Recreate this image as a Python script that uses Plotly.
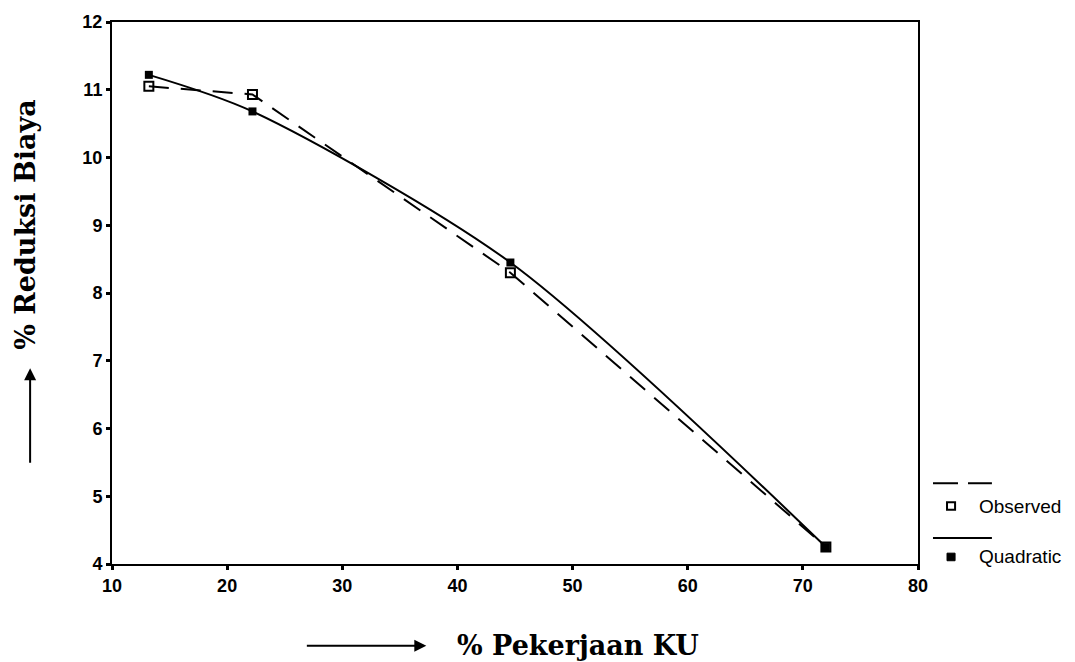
import plotly.graph_objects as go

# Data
x_vals = [13.2, 22.2, 44.6, 72.0]
observed = [11.05, 10.93, 8.30, 4.25]
quadratic = [11.22, 10.68, 8.45, 4.25]

x_ticks = [10, 20, 30, 40, 50, 60, 70, 80]
y_ticks = [4, 5, 6, 7, 8, 9, 10, 11, 12]

fig = go.Figure()
fig.add_trace(go.Scatter(
    x=x_vals, y=observed, mode="lines+markers", name="Observed",
    line=dict(color="black", width=2, dash="20px,12px"),
    marker=dict(symbol="square-open", size=9, color="black", line=dict(width=2)),
))
fig.add_trace(go.Scatter(
    x=x_vals, y=quadratic, mode="lines+markers", name="Quadratic",
    line=dict(color="black", width=2, shape="spline", smoothing=0.8),
    marker=dict(symbol="square", size=8, color="black"),
))

tickfont = dict(family="Liberation Sans, Arial", size=18, color="black", weight="bold")
fig.update_xaxes(range=[10, 80], tickvals=x_ticks, showgrid=False, zeroline=False,
                 showline=True, linecolor="black", linewidth=2, mirror=True,
                 ticks="outside", ticklen=4, tickwidth=3, tickcolor="black",
                 tickfont=tickfont)
fig.update_yaxes(range=[4, 12], tickvals=y_ticks, showgrid=False, zeroline=False,
                 showline=True, linecolor="black", linewidth=2, mirror=True,
                 ticks="outside", ticklen=4, tickwidth=3, tickcolor="black",
                 tickfont=tickfont)

titlefont = dict(family="DejaVu Serif", size=27, color="black")
legfont = dict(family="Liberation Sans, Arial", size=19, color="black")

annotations = [
    dict(text="<b>% Reduksi Biaya</b>", xref="paper", yref="paper", x=-0.1066, y=0.626,
         textangle=-90, showarrow=False, font=titlefont, xanchor="center", yanchor="middle"),
    dict(text="<b>% Pekerjaan KU</b>", xref="paper", yref="paper", x=0.425, y=-0.151,
         showarrow=False, font=titlefont, xanchor="left", yanchor="middle"),
    # arrows
    dict(text="", xref="paper", yref="paper",
         x=-0.1016, y=0.361, ax=0, ay=96, showarrow=True,
         arrowhead=2, arrowsize=1.2, arrowwidth=2, arrowcolor="black"),
    dict(text="", xref="paper", yref="paper",
         x=0.390, y=-0.151, ax=-121, ay=0, showarrow=True,
         arrowhead=2, arrowsize=1.2, arrowwidth=2, arrowcolor="black"),
    # legend text
    dict(text="Observed", xref="paper", yref="paper", x=1.073, y=0.107,
         showarrow=False, font=legfont, xanchor="left", yanchor="middle"),
    dict(text="Quadratic", xref="paper", yref="paper", x=1.073, y=0.013,
         showarrow=False, font=legfont, xanchor="left", yanchor="middle"),
]

shapes = [
    # dashed sample
    dict(type="line", xref="paper", yref="paper", x0=1.0186, x1=1.0496, y0=0.149, y1=0.149,
         line=dict(color="black", width=2)),
    dict(type="line", xref="paper", yref="paper", x0=1.062, x1=1.0917, y0=0.149, y1=0.149,
         line=dict(color="black", width=2)),
    # observed marker
    dict(type="rect", xref="paper", yref="paper", x0=1.036, x1=1.046, y0=0.100, y1=0.114,
         line=dict(color="black", width=2), fillcolor="white"),
    # solid sample
    dict(type="line", xref="paper", yref="paper", x0=1.0186, x1=1.0917, y0=0.048, y1=0.048,
         line=dict(color="black", width=2)),
    # quadratic marker
    dict(type="rect", xref="paper", yref="paper", x0=1.036, x1=1.046, y0=0.006, y1=0.020,
         line=dict(color="black", width=1), fillcolor="black"),
]

fig.update_layout(
    width=1075, height=662,
    margin=dict(l=112, r=157, t=20, b=98),
    plot_bgcolor="white", paper_bgcolor="white",
    showlegend=False,
    annotations=annotations, shapes=shapes,
)

fig.write_html("out.html")
